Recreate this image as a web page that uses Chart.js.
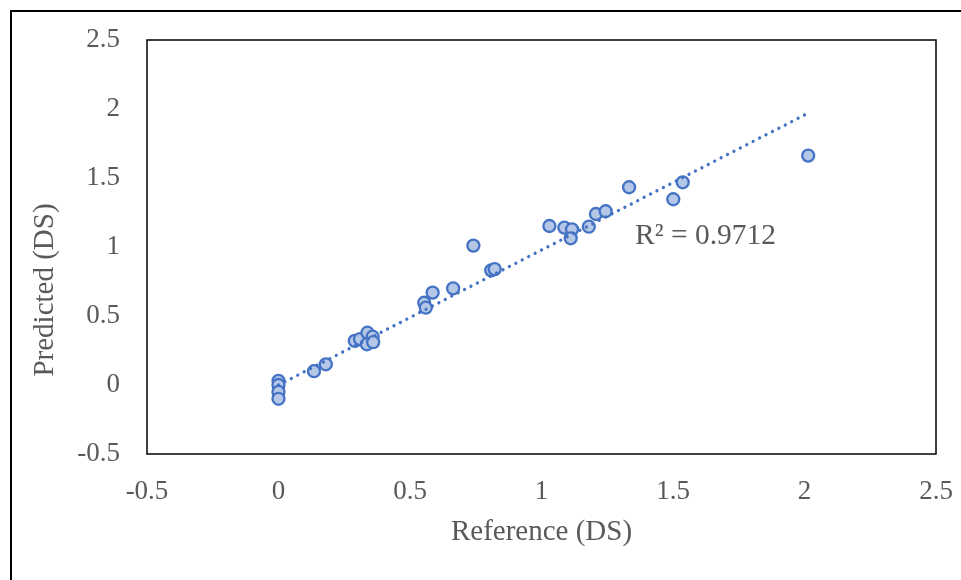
<!DOCTYPE html>
<html>
<head>
<meta charset="utf-8">
<script src="https://cdn.jsdelivr.net/npm/chart.js@4"></script>
<style>
  body { margin: 0; background: #fff; }
  #wrap { width: 961px; height: 580px; position: relative; }
</style>
</head>
<body>
<div id="wrap"><canvas id="scatterChart" width="961" height="580"></canvas></div>
<script>
// values
const referenceDS = [0, 0, 0, 0, 0.135, 0.18, 0.29, 0.31, 0.338, 0.358, 0.336, 0.36,
    0.554, 0.56, 0.586, 0.664, 0.741, 0.809, 0.822, 1.03, 1.087, 1.116, 1.111,
    1.18, 1.207, 1.244, 1.333, 1.501, 1.537, 2.014];
const predictedDS = [0.03, 0.0, -0.05, -0.1, 0.1, 0.15, 0.32, 0.333, 0.379, 0.35, 0.295, 0.31,
    0.596, 0.56, 0.669, 0.7, 1.01, 0.831, 0.84, 1.152, 1.14, 1.128, 1.063,
    1.147, 1.239, 1.259, 1.433, 1.346, 1.469, 1.662];
// linear trendline ends
const trendX = [0, 2.014];
const trendY = [0.0, 1.97];
const rSquaredLabel = 'R² = 0.9712';
const xTickLabels = ['-0.5', '0', '0.5', '1', '1.5', '2', '2.5'];
const yTickLabels = ['-0.5', '0', '0.5', '1', '1.5', '2', '2.5'];
const xTitle = 'Reference (DS)';
const yTitle = 'Predicted (DS)';

const textColor = '#595959';
const fontFamily = '"Liberation Serif", "Times New Roman", serif';

function tickText(labels) {
    return function (value) {
        let idx = Math.round((value + 0.5) / 0.5);
        return labels[idx] !== undefined ? labels[idx] : '';
    };
}

// frame, plot border, axis titles and R² text
const decorPlugin = {
    id: 'decor',
    beforeDraw(chart) {
        const c = chart.ctx;
        c.save();
        c.fillStyle = '#fff';
        c.fillRect(0, 0, chart.width, chart.height);
        c.strokeStyle = '#000';
        c.lineWidth = 2;
        c.beginPath();
        c.moveTo(11, chart.height);
        c.lineTo(11, 11);
        c.lineTo(chart.width, 11);
        c.stroke();
        c.restore();
    },
    afterDraw(chart) {
        const c = chart.ctx;
        const a = chart.chartArea;
        c.save();
        c.strokeStyle = '#000';
        c.lineWidth = 1.5;
        c.strokeRect(a.left, a.top, a.right - a.left, a.bottom - a.top);

        c.fillStyle = textColor;
        c.font = '29px ' + fontFamily;
        c.textAlign = 'center';
        c.textBaseline = 'middle';
        c.fillText(xTitle, (a.left + a.right) / 2, 532);

        c.translate(45, 290);
        c.rotate(-Math.PI / 2);
        c.fillText(yTitle, 0, 0);
        c.restore();

        c.save();
        c.fillStyle = textColor;
        c.font = '29.5px ' + fontFamily;
        c.textAlign = 'left';
        c.textBaseline = 'middle';
        c.fillText(rSquaredLabel, 635, 236);
        c.restore();
    }
};

const ctx = document.getElementById('scatterChart').getContext('2d');
new Chart(ctx, {
    type: 'scatter',
    data: {
        datasets: [
            {
                type: 'line',
                label: 'Linear trend',
                data: trendX.map((x, i) => ({ x: x, y: trendY[i] })),
                borderColor: '#4472C4',
                borderWidth: 3.3,
                borderDash: [0.01, 7.2],
                borderCapStyle: 'round',
                pointRadius: 0,
                fill: false,
                tension: 0
            },
            {
                label: 'Predicted',
                data: referenceDS.map((x, i) => ({ x: x, y: predictedDS[i] })),
                backgroundColor: '#B4C7E7',
                borderColor: '#4472C4',
                borderWidth: 2.3,
                pointRadius: 6,
                pointHoverRadius: 6
            }
        ]
    },
    plugins: [decorPlugin],
    options: {
        responsive: false,
        animation: false,
        layout: { padding: { top: 40, right: 25, left: 0, bottom: 0 } },
        plugins: {
            legend: { display: false },
            tooltip: { enabled: false }
        },
        scales: {
            x: {
                type: 'linear',
                min: -0.5,
                max: 2.5,
                afterFit(scale) {
                    scale.height = 126;
                    scale.paddingLeft = 0;
                    scale.paddingRight = 0;
                },
                grid: { display: false, drawTicks: false },
                border: { display: false },
                ticks: {
                    stepSize: 0.5,
                    padding: 22,
                    color: textColor,
                    font: { family: fontFamily, size: 27 },
                    maxRotation: 0,
                    autoSkip: false,
                    callback: tickText(xTickLabels)
                }
            },
            y: {
                type: 'linear',
                min: -0.5,
                max: 2.5,
                afterFit(scale) {
                    scale.width = 147;
                    scale.paddingTop = 0;
                    scale.paddingBottom = 0;
                },
                grid: { display: false, drawTicks: false },
                border: { display: false },
                ticks: {
                    stepSize: 0.5,
                    padding: 27,
                    color: textColor,
                    font: { family: fontFamily, size: 27 },
                    autoSkip: false,
                    callback: tickText(yTickLabels)
                }
            }
        }
    }
});
</script>
</body>
</html>
